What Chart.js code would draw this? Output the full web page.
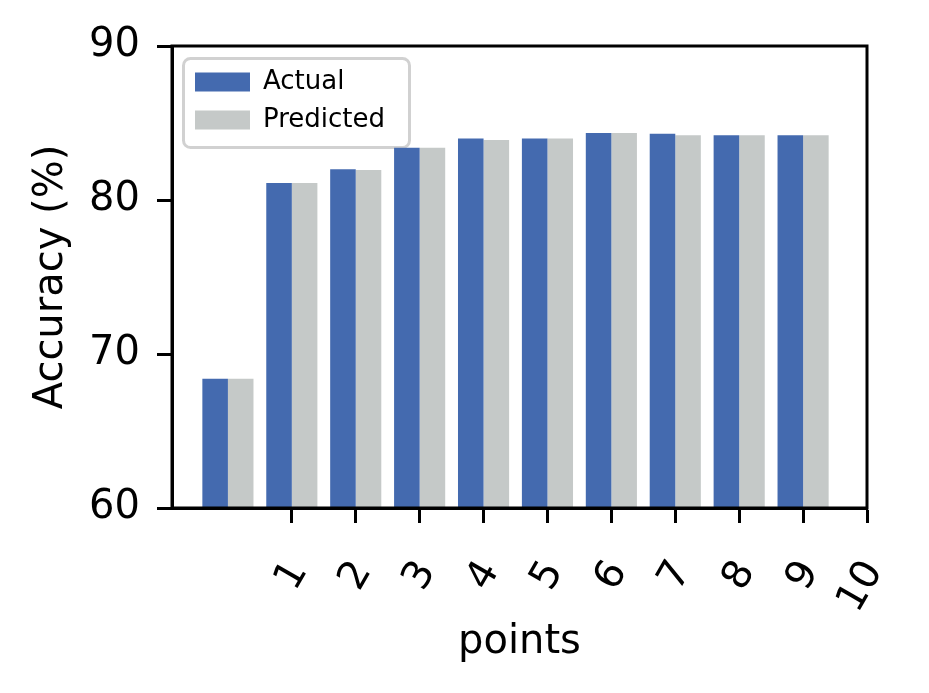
<!DOCTYPE html>
<html>
<head>
<meta charset="utf-8">
<script src="https://cdn.jsdelivr.net/npm/chart.js@4/dist/chart.umd.min.js"></script>
<style>
  html, body { margin: 0; padding: 0; background: #ffffff; }
  #wrap { width: 929px; height: 693px; }
</style>
</head>
<body>
<div id="wrap"><canvas id="c" width="929" height="693"></canvas></div>
<script>
// ---- data ----
const seriesNames = ['Actual', 'Predicted'];
const actualValues = [68.4, 81.1, 82.0, 83.4, 84.0, 84.0, 84.35, 84.3, 84.2, 84.2];
const predictedValues = [68.4, 81.1, 81.95, 83.4, 83.9, 84.0, 84.35, 84.2, 84.2, 84.2];
const tickLabels = ['1', '2', '3', '4', '5', '6', '7', '8', '9', '10'];
const yTicks = [60, 70, 80, 90];
const xTitle = 'points';
const yTitle = 'Accuracy (%)';

const FONT = 'DejaVu Sans';
const BLUE = '#446aaf';
const GRAY = '#c5c9c8';

const framePlugin = {
  id: 'frame',
  beforeDraw(chart) {
    const lg = chart.legend;
    if (lg) {
      const ctx = chart.ctx;
      ctx.save();
      ctx.strokeStyle = 'rgba(204,204,204,0.9)';
      ctx.lineWidth = 3;
      ctx.beginPath();
      ctx.roundRect(lg.left + 0.5, lg.top + 1.5, 226, 89, 7);
      ctx.stroke();
      ctx.restore();
    }
  },
  afterLayout(chart) {
    const lg = chart.legend;
    if (lg) {
      lg.left = chart.chartArea.left + 11;
      lg.top = chart.chartArea.top + 11;
      lg.right = lg.left + lg.width;
      lg.bottom = lg.top + lg.height;
    }
  },
  afterDraw(chart) {
    const {ctx, chartArea: a} = chart;
    ctx.save();
    ctx.strokeStyle = '#000';
    ctx.lineWidth = 3;
    ctx.lineCap = 'square';
    ctx.beginPath();
    ctx.moveTo(a.left, a.top);
    ctx.lineTo(a.right, a.top);
    ctx.lineTo(a.right, a.bottom);
    ctx.moveTo(a.left, a.top);
    ctx.lineTo(a.left, a.bottom);
    ctx.lineTo(a.right, a.bottom);
    ctx.stroke();
    ctx.restore();
  }
};

new Chart(document.getElementById('c'), {
  type: 'bar',
  data: {
    datasets: [
      {
        label: seriesNames[0],
        data: actualValues.map((v, i) => ({x: i, y: v})),
        backgroundColor: BLUE,
        borderWidth: 0,
        categoryPercentage: 0.8,
        barPercentage: 1.0
      },
      {
        label: seriesNames[1],
        data: predictedValues.map((v, i) => ({x: i, y: v})),
        backgroundColor: GRAY,
        borderWidth: 0,
        categoryPercentage: 0.8,
        barPercentage: 1.0
      }
    ]
  },
  options: {
    responsive: false,
    devicePixelRatio: 1,
    animation: false,
    layout: { padding: { left: 0, top: 46, right: 62, bottom: 0 } },
    plugins: {
      legend: {
        position: 'chartArea',
        align: 'start',
        labels: {
          boxWidth: 55,
          boxHeight: 19,
          padding: 12,
          color: '#000',
          font: { family: FONT, size: 26 }
        }
      },
      tooltip: { enabled: false }
    },
    scales: {
      x: {
        type: 'linear',
        position: 'bottom',
        min: -0.875,
        max: 10,
        offset: false,
        afterBuildTicks(scale) {
          scale.ticks = tickLabels.map((_, i) => ({ value: i + 1 }));
        },
        afterFit(scale) {
          scale.height = 185;
          scale.paddingLeft = 0;
          scale.paddingRight = 0;
        },
        grid: {
          display: true,
          drawOnChartArea: false,
          drawTicks: true,
          tickLength: 15,
          tickWidth: 3,
          color: '#000',
          offset: false
        },
        border: { display: true, color: '#000', width: 3 },
        ticks: {
          autoSkip: false,
          minRotation: 60,
          maxRotation: 60,
          padding: 30,
          labelOffset: 7,
          color: '#000',
          font: { family: FONT, size: 40 },
          callback: (v) => tickLabels[Math.round(v) - 1]
        },
        title: {
          display: true,
          text: xTitle,
          color: '#000',
          font: { family: FONT, size: 40 },
          padding: { top: 0, bottom: 26 }
        }
      },
      y: {
        min: 60,
        max: 90,
        afterBuildTicks(scale) {
          scale.ticks = yTicks.map(v => ({ value: v }));
        },
        afterFit(scale) { scale.width = 172; },
        grid: {
          display: true,
          drawOnChartArea: false,
          drawTicks: true,
          tickLength: 15,
          tickWidth: 3,
          color: '#000'
        },
        border: { display: true, color: '#000', width: 3 },
        ticks: {
          padding: 17,
          color: '#000',
          font: { family: FONT, size: 40 }
        },
        title: {
          display: true,
          text: yTitle,
          color: '#000',
          font: { family: FONT, size: 40 },
          padding: { top: 28, bottom: 0 }
        }
      }
    }
  },
  plugins: [framePlugin]
});
</script>
</body>
</html>
